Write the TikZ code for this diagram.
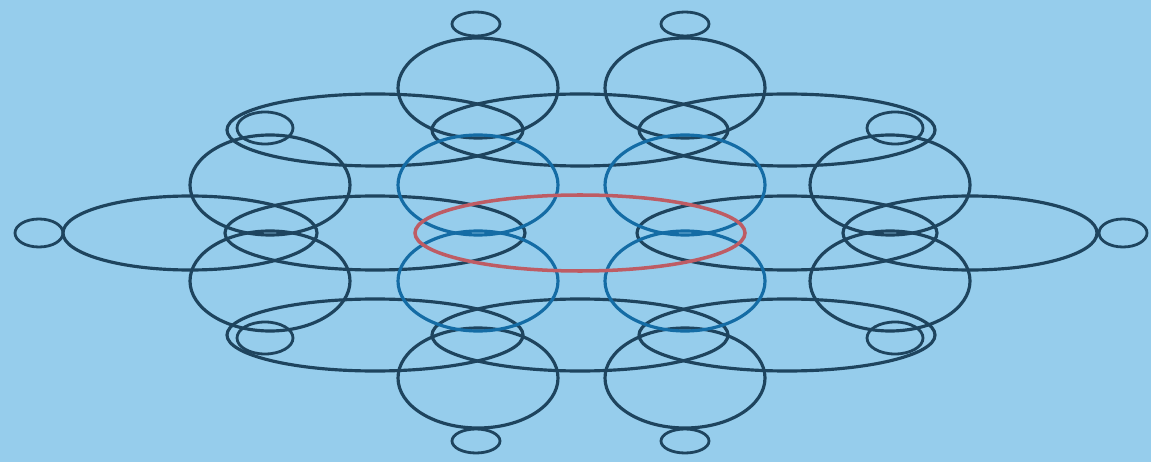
\documentclass[tikz,border=0pt]{standalone}
\usepackage{tikz}
\definecolor{skyBg}{RGB}{150,205,236}
\definecolor{inkBlue}{RGB}{30,68,94}
\definecolor{brightBlue}{RGB}{20,108,165}
\definecolor{lensRed}{RGB}{190,92,100}

\begin{document}
\begin{tikzpicture}[x=0.02cm, y=-0.02cm,
    ring/.style={draw=inkBlue, line width=1.8pt},
    band/.style={draw=inkBlue, line width=1.8pt},
    bead/.style={draw=inkBlue, line width=1.6pt},
  ]
  \fill[skyBg] (0,0) rectangle (1151,462);
  \useasboundingbox (0,0) rectangle (1151,462);

  % wide bands, upper and lower rows
  \foreach \cx in {375,580,787} {
    \draw[band] (\cx,130) ellipse [x radius=148, y radius=36];
    \draw[band] (\cx,335) ellipse [x radius=148, y radius=36];
  }
  % middle row
  \draw[band] (190,233) ellipse [x radius=127, y radius=37];
  \draw[band] (970,233) ellipse [x radius=127, y radius=37];
  \draw[band] (375,233) ellipse [x radius=150, y radius=37];
  \draw[band] (787,233) ellipse [x radius=150, y radius=37];

  % rings
  \foreach \cx in {478,685} {
    \draw[ring] (\cx,88) ellipse [x radius=80, y radius=50];
    \draw[ring] (\cx,378) ellipse [x radius=80, y radius=50];
  }
  \foreach \cx in {270,890} {
    \draw[ring] (\cx,185) ellipse [x radius=80, y radius=50];
    \draw[ring] (\cx,281) ellipse [x radius=80, y radius=50];
  }
  \foreach \cx in {478,685} {
    \draw[ring, draw=brightBlue] (\cx,185) ellipse [x radius=80, y radius=50];
    \draw[ring, draw=brightBlue] (\cx,281) ellipse [x radius=80, y radius=50];
  }

  % small beads at the ends
  \foreach \cx in {476,685} {
    \draw[bead] (\cx,24) ellipse [x radius=24, y radius=12];
    \draw[bead] (\cx,441) ellipse [x radius=24, y radius=12];
  }
  \draw[bead] (39,233) ellipse [x radius=24, y radius=14];
  \draw[bead] (1123,233) ellipse [x radius=24, y radius=14];
  \foreach \cx in {265,895} {
    \draw[bead] (\cx,128) ellipse [x radius=28, y radius=16];
    \draw[bead] (\cx,338) ellipse [x radius=28, y radius=16];
  }

  % centre lens
  \draw[draw=lensRed, line width=2pt] (580,233) ellipse [x radius=165, y radius=38];
\end{tikzpicture}
\end{document}
